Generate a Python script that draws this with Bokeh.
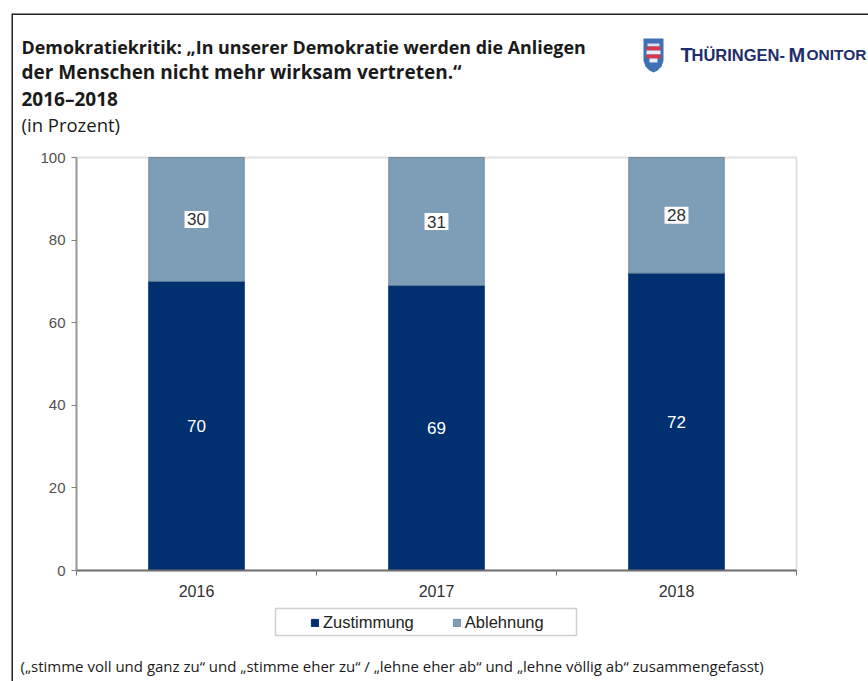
from bokeh.plotting import figure
from bokeh.core.properties import value
from bokeh.models import (ColumnDataSource, LabelSet, Label, Legend, LegendItem, FixedTicker,
                          Range1d, BoxAnnotation, PolyAnnotation)
from bokeh.embed import file_html
from bokeh.resources import INLINE

years = ["2016", "2017", "2018"]
zustimmung = [70, 69, 72]
ablehnung = [30, 31, 28]
y_ticks = [0, 20, 40, 60, 80, 100]
title_lines = ["Demokratiekritik: „In unserer Demokratie werden die Anliegen",
               "der Menschen nicht mehr wirksam vertreten.“",
               "2016–2018"]
subtitle = "(in Prozent)"
footnote = "(„stimme voll und ganz zu“ und „stimme eher zu“ / „lehne eher ab“ und „lehne völlig ab“ zusammengefasst)"
DARK, LIGHT = "#003070", "#7d9eb6"
W, H = 868, 681
# plot box in canvas pixels; the frame fills the canvas and the axes sit inside it
PL, PR, PT, PB = 76, 796, 157, 570
ux = (PR - PL) / 3
uy = (PB - PT) / 100

p = figure(width=W, height=H, output_backend="svg", toolbar_location=None,
           x_range=Range1d(-PL / ux, (W - PL) / ux), y_range=Range1d(-(H - PB) / uy, PB / uy),
           min_border=0, min_border_left=0, min_border_right=0, min_border_top=0, min_border_bottom=0,
           background_fill_color="white", border_fill_color="white")
p.grid.visible = False
p.outline_line_color = None

x = [i + 0.5 for i in range(len(years))]
src = ColumnDataSource(dict(
    x=x, year=years, z=zustimmung, a=ablehnung,
    top=[z + a for z, a in zip(zustimmung, ablehnung)],
    zmid=[z / 2 for z in zustimmung],
    amid=[z + a / 2 for z, a in zip(zustimmung, ablehnung)],
    zt=[str(v) for v in zustimmung], at=[str(v) for v in ablehnung]))
p.add_layout(BoxAnnotation(left=0, right=3, bottom=0, top=100, fill_color=None, line_color="#9a9a9a", line_width=2, level="underlay"))
r1 = p.vbar(x="x", bottom=0, top="z", width=0.398, source=src, fill_color=DARK, line_color=DARK)
r2 = p.vbar(x="x", bottom="z", top="top", width=0.398, source=src, fill_color=LIGHT, line_color="#5f7f98", line_width=0.8)

p.add_layout(LabelSet(x="x", y="zmid", text="zt", source=src, text_color="white", text_font=value("Liberation Sans"),
                      text_font_size="17px", text_align="center", text_baseline="middle"))
p.add_layout(LabelSet(x="x", y="amid", text="at", source=src, text_color="#303030", text_font=value("Liberation Sans"),
                      text_font_size="17px", text_align="center", text_baseline="middle",
                      background_fill_color="white", border_line_color="white", border_line_width=5,
                      border_line_join="miter"))

xa = p.xaxis[0]
xa.fixed_location = 0
xa.bounds = (0, 3)
xa.ticker = FixedTicker(ticks=x, minor_ticks=[0, 1, 2, 3])
xa.major_label_overrides = {v: y for v, y in zip(x, years)}
xa.major_tick_line_color = None
xa.minor_tick_line_color = "#707070"
xa.minor_tick_out = 5
xa.minor_tick_in = 0
xa.axis_line_color = "#707070"
xa.axis_line_width = 2
xa.major_label_text_font = "Liberation Sans"
xa.major_label_text_font_size = "16px"
xa.major_label_text_color = "#303030"
xa.major_label_standoff = 8

ya = p.yaxis[0]
ya.fixed_location = 0
ya.bounds = (0, 100)
ya.ticker = FixedTicker(ticks=y_ticks)
ya.minor_tick_line_color = None
ya.major_tick_line_color = "#808080"
ya.major_tick_out = 5
ya.major_tick_in = 0
ya.axis_line_color = "#9a9a9a"
ya.axis_line_width = 2
ya.major_label_text_font = "Liberation Sans"
ya.major_label_text_font_size = "15px"
ya.major_label_text_color = "#505050"
ya.major_label_standoff = 6


def txt(t, px, py, size, color="#1a1a1a", style="normal", font="Open Sans"):
    p.add_layout(Label(x=px, y=H - py, x_units="screen", y_units="screen", text=t,
                       text_font=font, text_font_size=size, text_color=color, text_font_style=style,
                       text_baseline="middle"))


for t, yy, s in zip(title_lines, [46, 71, 98], ["17.9px", "19px", "19px"]):
    txt(t, 21, yy, s, style="bold")
txt(subtitle, 21, 124, "18.5px")
txt(footnote, 20, 665, "15px")

# logo wordmark
NAVY = "#1f2f6b"
for t, xx, s in [("T", 680, "20px"), ("HÜRINGEN-", 691, "16.5px"), ("M", 788, "20px"), ("ONITOR", 806, "15.5px")]:
    txt(t, xx, 54, s, color=NAVY, style="bold", font="Liberation Sans")


def poly(xs, ys, color):
    p.add_layout(PolyAnnotation(xs=xs, ys=[H - v for v in ys], xs_units="screen", ys_units="screen",
                                fill_color=color, fill_alpha=1, line_color=None, level="annotation"))


poly([643, 663, 663, 661, 657, 653, 649, 645, 643], [38, 38, 60, 66, 70, 72, 70, 66, 60], "#3f6fb5")
poly([647, 659, 659, 647], [43, 43, 46, 46], "#d8e0f0")
poly([646, 660, 660, 646], [46, 46, 50, 50], "#d8384a")
poly([646, 660, 660, 646], [50, 50, 54, 54], "#eceef5")
poly([646, 660, 660, 646], [54, 54, 58, 58], "#d8384a")
poly([649, 657, 657, 649], [58, 58, 62, 62], "#eceef5")

# outer frame (top and left)
for l, r, t, b in [(12, 868, 13, 14.5), (11, 12.5, 13, 681)]:
    p.add_layout(BoxAnnotation(left=l, right=r, top=H - t, bottom=H - b,
                               left_units="screen", right_units="screen", top_units="screen", bottom_units="screen",
                               fill_color="#222222", fill_alpha=1, line_color=None))

# legend box
p.add_layout(BoxAnnotation(left=275, right=576, top=H - 608, bottom=H - 635,
                           left_units="screen", right_units="screen", top_units="screen", bottom_units="screen",
                           fill_color="white", fill_alpha=1, line_color="#606060", line_width=1.5))
legend = Legend(items=[LegendItem(label="Zustimmung", renderers=[r1]), LegendItem(label="Ablehnung", renderers=[r2])],
                orientation="horizontal", location=(310, H - 632),
                glyph_width=9, glyph_height=9, label_text_font="Liberation Sans", label_text_font_size="16.5px",
                label_text_color="#222222", border_line_color=None,
                spacing=38, padding=4, margin=0, label_standoff=4, background_fill_alpha=0)
p.add_layout(legend, "center")

open("out.html", "w").write(file_html(p, INLINE))
